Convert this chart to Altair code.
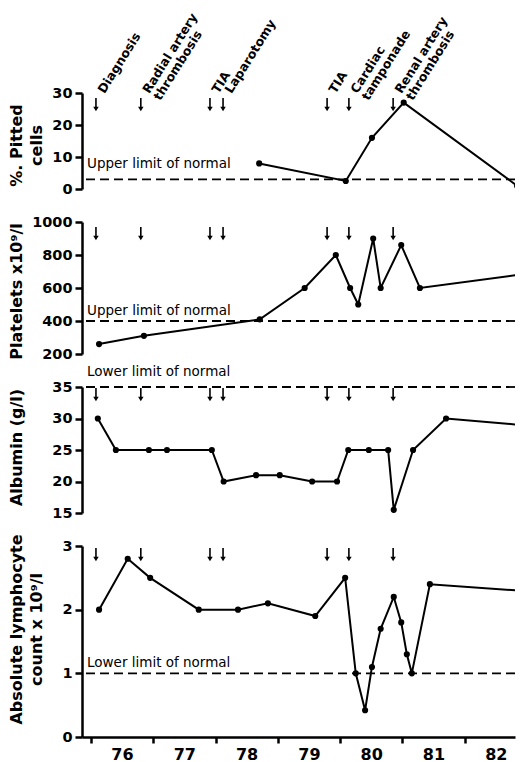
import altair as alt
import pandas as pd

# ---- data ----
event_years = [1976.08, 1976.80, 1977.91, 1978.12, 1979.79, 1980.14, 1980.85]
event_labels = ["Diagnosis", "Radial artery\nthrombosis", "TIA", "Laparotomy",
                "TIA", "Cardiac\ntamponade", "Renal artery\nthrombosis"]

pitted_years = [1978.70, 1980.09, 1980.51, 1981.02, 1982.84]
pitted_values = [8, 2.5, 16, 27, 1]

platelet_years = [1976.13, 1976.85, 1978.71, 1979.43, 1979.93, 1980.16, 1980.29,
                  1980.53, 1980.65, 1980.98, 1981.28, 1982.87]
platelet_values = [260, 310, 410, 600, 800, 600, 500, 900, 600, 860, 600, 680]

albumin_years = [1976.11, 1976.40, 1976.93, 1977.22, 1977.94, 1978.13, 1978.65,
                 1979.03, 1979.55, 1979.95, 1980.13, 1980.46, 1980.77, 1980.86,
                 1981.17, 1981.70, 1982.87]
albumin_values = [30, 25, 25, 25, 25, 20, 21, 21, 20, 20, 25, 25, 25, 15.5, 25, 30, 29]

lymph_years = [1976.13, 1976.59, 1976.95, 1977.73, 1978.36, 1978.84, 1979.60,
               1980.08, 1980.25, 1980.40, 1980.51, 1980.65, 1980.86, 1980.98,
               1981.07, 1981.15, 1981.44, 1982.87]
lymph_values = [2.0, 2.8, 2.5, 2.0, 2.0, 2.1, 1.9, 2.5, 1.0, 0.42, 1.1, 1.7, 2.2,
                1.8, 1.3, 1.0, 2.4, 2.3]

year_ticks = [1976, 1977, 1978, 1979, 1980, 1981, 1982]

pitted_ticks = [0, 10, 20, 30]
platelet_ticks = [200, 400, 600, 800, 1000]
albumin_ticks = [15, 20, 25, 30, 35]
lymph_ticks = [0, 1, 2, 3]

# ---- layout / style ----
W = 433
X_DOMAIN = [1975.856, 1975.856 + W / 62.3]
FONT = "DejaVu Sans"


def panel(years, values, domain, ticks, height, limit, limit_text, text_dy,
          title, title_y, arrow_top, bottom_axis=False, with_labels=False):
    xscale = alt.Scale(domain=X_DOMAIN, nice=False, zero=False)
    yscale = alt.Scale(domain=domain, nice=False, zero=False)
    yaxis = alt.Axis(values=ticks, title=title, titleY=title_y, grid=False,
                     format="d", labelOverlap=False)
    if bottom_axis:
        xaxis = alt.Axis(values=year_ticks, title=None, grid=False,
                         labelExpr="'' + (datum.value - 1900)",
                         labelOffset=31, labelFlush=False, labelOverlap=False,
                         labelBound=False, tickSize=6, tickWidth=2.5, domainWidth=2.5,
                         labelFontSize=16, labelPadding=3)
    else:
        xaxis = None

    def X(field="year:Q"):
        return alt.X(field, scale=xscale, axis=xaxis)

    def Y(field="value:Q"):
        return alt.Y(field, scale=yscale, axis=yaxis)

    df = pd.DataFrame({"year": years, "value": values})
    base = alt.Chart(df)
    line = base.mark_line(color="black", strokeWidth=2, clip=True).encode(x=X(), y=Y())
    pts = base.mark_point(filled=True, color="black", size=38, opacity=1,
                          shape="circle", clip=True).encode(x=X(), y=Y())

    lim = pd.DataFrame({"value": [limit], "t": [limit_text]})
    rule = alt.Chart(lim).mark_rule(color="black", strokeWidth=1.8,
                                    strokeDash=[9, 5]).encode(y=Y())
    ltext = alt.Chart(lim).mark_text(align="left", baseline="middle", font=FONT,
                                     fontSize=13.5, color="black", dx=5,
                                     dy=text_dy).encode(
        x=alt.value(0), y=Y(), text="t:N")

    ev = pd.DataFrame({"year": event_years, "label": event_labels})
    shaft = alt.Chart(ev).mark_rule(color="black", strokeWidth=1.6).encode(
        x=X(), y=alt.value(arrow_top), y2=alt.value(arrow_top + 9))
    head = alt.Chart(ev).mark_point(shape="triangle-down", filled=True,
                                    color="black", size=30, opacity=1).encode(
        x=X(), y=alt.value(arrow_top + 11))

    layers = [rule, line, pts, ltext, shaft, head]
    if with_labels:
        lab = alt.Chart(ev).mark_text(angle=302, align="left", baseline="top",
                                      lineBreak="\n", font=FONT, fontWeight="bold",
                                      fontSize=12.5, lineHeight=13,
                                      color="black").encode(
            x=X(), y=alt.value(-4), text="label:N")
        layers.append(lab)
    return alt.layer(*layers).properties(width=W, height=height)


p1 = panel(pitted_years, pitted_values, [0, 30], pitted_ticks, 96, 3,
           "Upper limit of normal", -15, ["%. Pitted", "cells"], 52, 5,
           with_labels=True)
p2 = panel(platelet_years, platelet_values, [200, 1000], platelet_ticks, 132, 400,
           "Upper limit of normal", -10, "Platelets  x10⁹/l", 69, 5)
p3 = panel(albumin_years, albumin_values, [15, 35], albumin_ticks, 126, 35,
           "Lower limit of normal", -15, "Albumin (g/l)", 60, 1)
p4 = panel(lymph_years, lymph_values, [0, 3], lymph_ticks, 191, 1,
           "Lower limit of normal", -10, ["Absolute lymphocyte", "count x 10⁹/l"],
           83, 2, bottom_axis=True)

chart = alt.vconcat(p1, p2, p3, p4, spacing=33, bounds="flush").properties(
    padding={"left": 0, "top": 3, "right": 0, "bottom": 0}
).configure_view(stroke=None).configure_axis(
    domainColor="black", domainWidth=2.5, tickColor="black", tickWidth=2.5,
    tickSize=7, labelFont=FONT, labelFontWeight="bold", labelFontSize=14.5,
    labelColor="black", labelPadding=3, titleFont=FONT, titleFontWeight="bold",
    titleFontSize=16, titleColor="black"
).configure_axisY(
    titleAngle=270, titleX=-74, titleBaseline="top", titleAlign="center",
    titleLineHeight=20
)

chart.save("out.html", embed_options={"renderer": "svg", "actions": False})
